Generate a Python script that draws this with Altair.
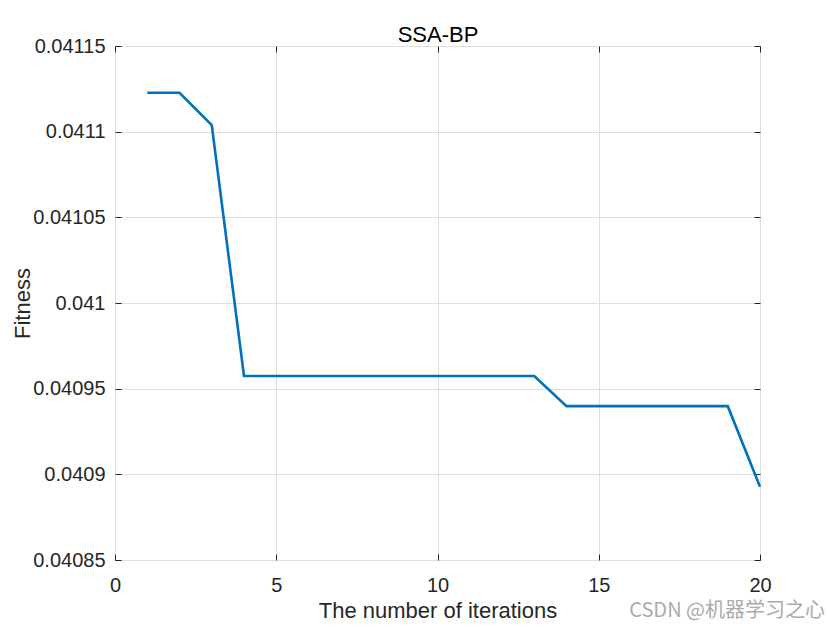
import altair as alt
import pandas as pd

iterations = list(range(1, 21))
fitness = [0.0411227, 0.0411227, 0.0411039,
           0.0409574, 0.0409574, 0.0409574, 0.0409574, 0.0409574,
           0.0409574, 0.0409574, 0.0409574, 0.0409574, 0.0409574,
           0.0409398, 0.0409398, 0.0409398, 0.0409398, 0.0409398, 0.0409398,
           0.0408928]
x_ticks = [0, 5, 10, 15, 20]
y_ticks = [0.04085, 0.0409, 0.04095, 0.041, 0.04105, 0.0411, 0.04115]
chart_title = "SSA-BP"
x_title = "The number of iterations"
y_title = "Fitness"
watermark_text = ["CSDN @机器学习之心"]

df = pd.DataFrame({"iter": iterations, "fit": fitness})

FONT = "Liberation Sans"
FRAME = "#262626"
GRID = "#dedede"

xs = alt.Scale(domain=[0, 20], nice=False, zero=False)
ys = alt.Scale(domain=[0.04085, 0.04115], nice=False, zero=False)

bottom_axis = alt.Axis(
    values=x_ticks, orient="bottom", offset=-6, tickSize=6, tickColor=FRAME,
    domain=False, grid=True, gridColor=GRID, gridWidth=1, labelFlush=False,
    labelFont=FONT, labelFontSize=20, labelColor=FRAME, labelPadding=15,
    title=x_title, titleFont=FONT, titleFontSize=22,
    titleFontWeight="normal", titleColor=FRAME, titleBaseline="alphabetic",
    titleY=63,
)
left_axis = alt.Axis(
    values=y_ticks, orient="left", offset=-6, tickSize=6, tickColor=FRAME,
    domain=False, grid=True, gridColor=GRID, gridWidth=1, labelFlush=False,
    labelFont=FONT, labelFontSize=20, labelColor=FRAME, labelPadding=10,
    labelExpr="format(datum.value, '.5~f')",
    title=y_title, titleFont=FONT, titleFontSize=22,
    titleFontWeight="normal", titleColor=FRAME, titleBaseline="alphabetic",
    titleX=-92,
)
top_axis = alt.Axis(
    values=x_ticks, orient="top", offset=-6, tickSize=6, tickColor=FRAME,
    domain=False, grid=False, labels=False,
    title=chart_title, titleFont=FONT, titleFontSize=22,
    titleFontWeight="normal", titleColor="#000000", titleBaseline="alphabetic",
    titleY=-11,
)
right_axis = alt.Axis(
    values=y_ticks, orient="right", offset=-6, tickSize=6, tickColor=FRAME,
    domain=False, grid=False, labels=False, title=None,
)

base = alt.Chart(df)

ghost = base.mark_line(opacity=0).encode(
    x=alt.X("iter:Q", scale=xs, axis=top_axis),
    y=alt.Y("fit:Q", scale=ys, axis=right_axis),
)

line = base.mark_line(color="#0072BD", strokeWidth=2.6).encode(
    x=alt.X("iter:Q", scale=xs, axis=bottom_axis),
    y=alt.Y("fit:Q", scale=ys, axis=left_axis),
)

watermark = alt.Chart(pd.DataFrame({"t": watermark_text})).mark_text(
    align="right", baseline="alphabetic", fontSize=20, color="#ababab",
    font="Noto Sans CJK SC",
).encode(text="t:N", x=alt.value(710), y=alt.value(571))

chart = alt.layer(ghost, line, watermark).resolve_axis(
    x="independent", y="independent"
).properties(
    width=645,
    height=514,
    padding={"left": 107, "top": 38, "right": 72, "bottom": 62},
    autosize=alt.AutoSizeParams(type="none"),
    background="white",
).configure_view(stroke=FRAME, strokeWidth=1)

chart.save("out.html", embed_options={"renderer": "svg", "actions": False})
